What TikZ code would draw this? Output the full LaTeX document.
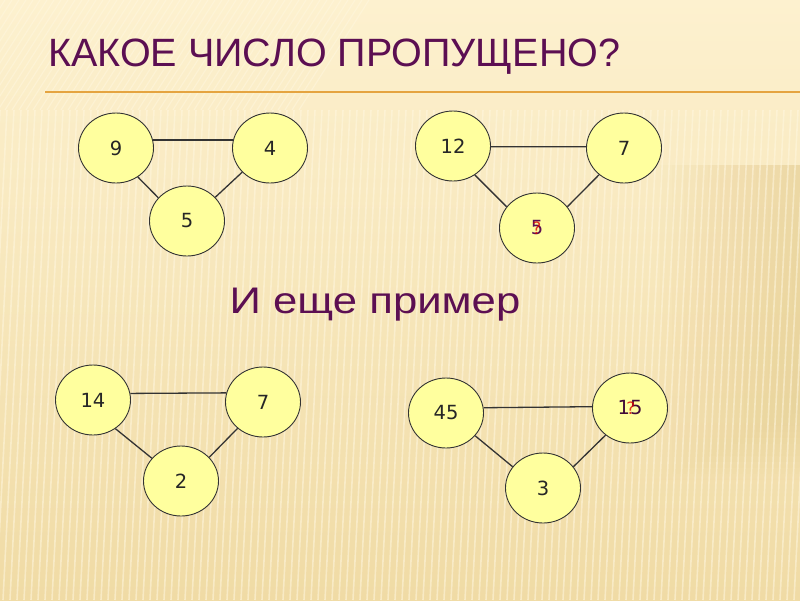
\documentclass[tikz,border=0pt]{standalone}
\usepackage{fontspec}
\setmainfont{Liberation Sans}
\newfontfamily\widefont[FakeStretch=1.18]{Liberation Sans}
\newfontfamily\numfont{DejaVu Sans}
\usetikzlibrary{calc,shapes.geometric}
\definecolor{bgtop}{HTML}{FDF1CF}
\definecolor{bgbot}{HTML}{F0DBA5}
\definecolor{stripe}{HTML}{FFF7DF}
\definecolor{plum}{HTML}{5C0F52}
\definecolor{rulec}{HTML}{E5A440}
\definecolor{ballc}{HTML}{FFFF9E}
\definecolor{edgec}{HTML}{333333}
\definecolor{darkband}{HTML}{E6CD90}
\tikzset{
  ball/.style={ellipse, draw=edgec, line width=0.9pt, fill=ballc, minimum width=75pt, minimum height=70pt, inner sep=0pt, font=\numfont\fontsize{19.5}{19.5}\selectfont, text=black!85},
  link/.style={draw=edgec, line width=1.3pt},
  qmark/.style={font=\numfont\fontsize{17}{17}\selectfont, text=red!85!black, inner sep=0pt, opacity=0.8},
  ans/.style={font=\numfont\fontsize{19.5}{19.5}\selectfont, inner sep=0pt},
}
\begin{document}
\begin{tikzpicture}[x=1pt,y=-1pt]
\shade[top color=bgtop, bottom color=bgbot] (0,0) rectangle (800,600);
\useasboundingbox (0,0) rectangle (800,600);
\foreach \k in {0,...,11} {\fill[darkband, opacity=0.06] (660+\k*12,165) rectangle (800,480-\k*6);}
% faint stripes
\foreach \i in {0,7,...,830} {\draw[stripe, line width=1.6pt, opacity=0.55] (\i,110) -- (\i-25,600);}
\foreach \i in {-100,-93,...,300} {\draw[stripe, line width=1.2pt, opacity=0.5] (\i,110) -- (\i+70,0);}
% title
\node[anchor=base west, inner sep=0pt, text=plum, font=\fontsize{39.5}{39.5}\selectfont] (title) at (48,66) {КАКОЕ ЧИСЛО ПРОПУЩЕНО?};
\coordinate (r1) at (45,92);
\coordinate (r2) at (800,92);
\draw[rulec, line width=2pt] (r1) -- (r2);
% group 1
\node[ball] (a1) at (116,148) {9};
\node[ball] (b1) at (270,148) {4};
\node[ball] (c1) at (187,221) {5};
\draw[link] (a1.12) -- (b1.168);
\draw[link] (a1.-53) -- (c1.141);
\draw[link] (b1.-139) -- (c1.40);
% group 2
\node[ball] (a2) at (453,146) {12};
\node[ball] (b2) at (624,148) {7};
\node[ball] (c2) at (537,228) {};
\node[ans, text=plum] (c2t) at (c2) {5};
\node[qmark] (c2q) at (c2) {?};
\draw[link] (a2.-1) -- (b2.178);
\draw[link] (a2.-53) -- (c2.145);
\draw[link] (b2.-133) -- (c2.35);
% text
\node[anchor=base, inner sep=0pt, text=plum, font=\widefont\fontsize{37}{37}\selectfont] (more) at (375,313) {И еще пример};
% group 3
\node[ball] (a3) at (93,400) {14};
\node[ball] (b3) at (263,402) {7};
\node[ball] (c3) at (181,481) {2};
\draw[link] (a3.10) -- (b3.166);
\draw[link] (a3.-52) -- (c3.142);
\draw[link] (b3.-134) -- (c3.40);
% group 4
\node[ball] (a4) at (446,413) {45};
\node[ball] (b4) at (630,408) {};
\node[ans, text=plum!70!black] (b4t) at (b4) {15};
\node[qmark] (b4q) at ($(b4)+(1,0)$) {?};
\node[ball] (c4) at (543,488) {3};
\draw[link] (a4.8) -- (b4.178);
\draw[link] (a4.-38) -- (c4.145);
\draw[link] (b4.-132) -- (c4.35);
\end{tikzpicture}
\end{document}
